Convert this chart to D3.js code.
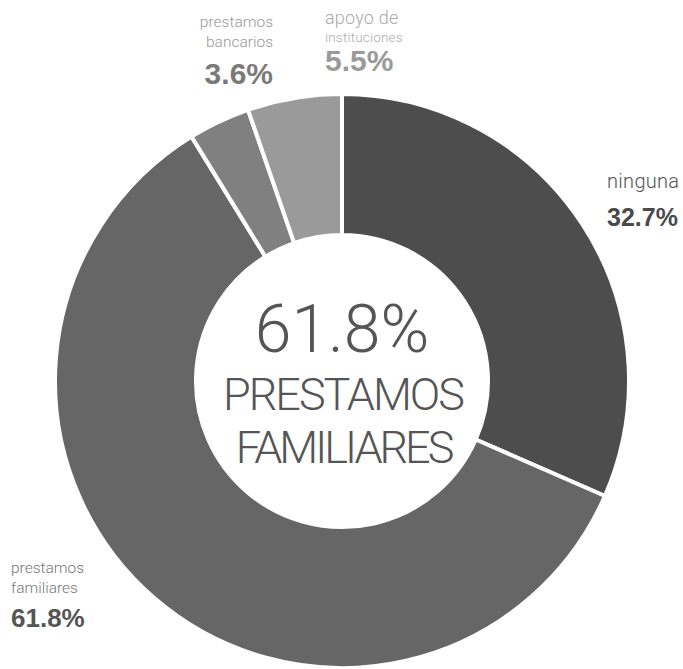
<!DOCTYPE html>
<html>
<head>
<meta charset="utf-8">
<script src="https://cdn.jsdelivr.net/npm/d3@7"></script>
<style>
  html, body { margin: 0; padding: 0; background: #fff; }
  svg { display: block; }
  .light { font-family: Roboto, "Helvetica Neue", Arial, sans-serif; font-weight: 300; }
  .bold { font-family: "Liberation Sans", Arial, sans-serif; font-weight: 700; }
</style>
</head>
<body>
<svg id="chart" width="683" height="669"></svg>
<script>
// Fuentes de financiamiento (porcentaje de respuestas)
const categories = ["ninguna", "prestamos familiares", "prestamos bancarios", "apoyo de instituciones"];
const values = [32.7, 61.8, 3.6, 5.5];
const labelLines = [["ninguna"], ["prestamos", "familiares"], ["prestamos", "bancarios"], ["apoyo de", "instituciones"]];
const sliceColors = ["#4d4d4d", "#666666", "#808080", "#9a9a9a"];
const centerTitle = ["PRESTAMOS", "FAMILIARES"];

const cx = 342, cy = 381, outerR = 287, innerR = 146;

// Label placement around the ring: x, alignment, baselines, font sizes, colours
const labelLayout = [
  { x: 607, anchor: "start", nameY: [188], nameSize: [20], nameSpacing: 0.3, valueY: 226, valueSize: 25, nameColor: "#555", valueColor: "#4a4a4a" },
  { x: 11,  anchor: "start", nameY: [573, 593], nameSize: [15.5, 15.5], nameSpacing: 0, valueY: 627, valueSize: 26, nameColor: "#777", valueColor: "#555" },
  { x: 273, anchor: "end",   nameY: [27, 47], nameSize: [15.5, 15.5], nameSpacing: 0, valueY: 84, valueSize: 30, nameColor: "#999", valueColor: "#7a7a7a" },
  { x: 325, anchor: "start", nameY: [24, 42], nameSize: [18, 13.5], nameSpacing: 0.2, valueY: 71, valueSize: 30, nameColor: "#aaa", valueColor: "#9a9a9a" }
];

const svg = d3.select("#chart");
const g = svg.append("g").attr("transform", `translate(${cx},${cy})`);

const data = categories.map((c, i) => ({ category: c, value: values[i], i }));
const pie = d3.pie().sort(null).value(d => d.value);
const arc = d3.arc().innerRadius(innerR).outerRadius(outerR);
const color = d3.scaleOrdinal().domain(categories).range(sliceColors);

g.selectAll("path.slice")
  .data(pie(data))
  .join("path")
  .attr("class", "slice")
  .attr("d", arc)
  .attr("fill", d => color(d.data.category))
  .attr("stroke", "#fff")
  .attr("stroke-width", 4)
  .attr("stroke-linejoin", "miter");

// Big figure in the hole: the largest category
const leader = data.reduce((a, b) => (b.value > a.value ? b : a));
const fmt = v => d3.format(".1f")(v) + "%";

g.append("text")
  .attr("class", "light")
  .attr("text-anchor", "middle")
  .attr("x", 0).attr("y", -29)
  .attr("font-size", 66)
  .attr("fill", "#555")
  .text(fmt(leader.value));

const titleSpacing = [-2, -3];
centerTitle.forEach((t, k) => {
  g.append("text")
    .attr("class", "light")
    .attr("text-anchor", "middle")
    .attr("x", titleSpacing[k] / -2).attr("y", 29 + k * 53)
    .attr("font-size", 45)
    .attr("letter-spacing", titleSpacing[k])
    .attr("fill", "#555")
    .text(t);
});

// Outer category labels
data.forEach((d, i) => {
  const L = labelLayout[i];
  const lab = svg.append("g").attr("transform", `translate(${L.x},0)`);
  labelLines[i].forEach((line, k) => {
    lab.append("text")
      .attr("class", "light")
      .attr("text-anchor", L.anchor)
      .attr("y", L.nameY[k])
      .attr("font-size", L.nameSize[k])
      .attr("letter-spacing", L.nameSpacing)
      .attr("fill", L.nameColor)
      .text(line);
  });
  lab.append("text")
    .attr("class", "bold")
    .attr("text-anchor", L.anchor)
    .attr("y", L.valueY)
    .attr("font-size", L.valueSize)
    .attr("fill", L.valueColor)
    .text(fmt(d.value));
});
</script>
</body>
</html>
